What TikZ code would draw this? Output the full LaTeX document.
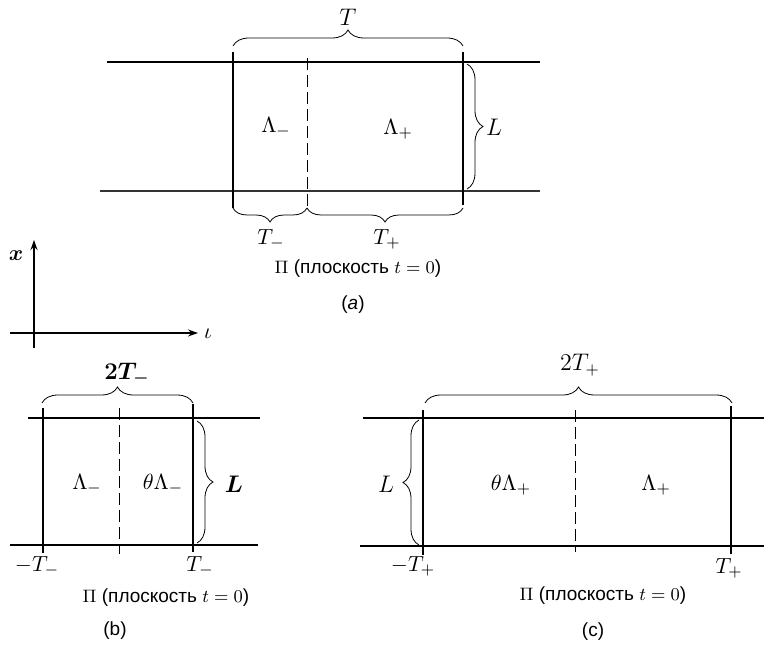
\documentclass[tikz,border=0pt]{standalone}
\usepackage{fontspec}
\usepackage{bm}
\newfontfamily\rus{Liberation Sans}
\usetikzlibrary{decorations.pathreplacing,arrows.meta}
\begin{document}
\begin{tikzpicture}[x=0.5pt,y=-0.5pt,
  hline/.style={line width=0.9pt},
  vline/.style={line width=0.7pt},
  thickv/.style={line width=1.05pt},
  dline/.style={line width=0.5pt, dash pattern=on 6pt off 2.5pt},
  brc/.style={line width=0.4pt, decorate, decoration={brace, amplitude=#1}},
  brc/.default=7pt,
  lab/.style={inner sep=0pt, font=\fontsize{11}{13}\selectfont},
  big/.style={inner sep=0pt, font=\fontsize{12}{14}\selectfont},
  captxt/.style={inner sep=0pt, font=\rus\fontsize{9.5}{11}\selectfont},
  axisarrow/.style={line width=0.7pt, -{Stealth[length=5pt,width=3.5pt]}}
]
\useasboundingbox (0,0) rectangle (764,646);

% ---------- panel (a) ----------
\draw[hline] (107,62) -- (540,62);
\draw[line width=0.55pt, black!80] (100,191) -- (540,191);
\draw[vline] (233,52) -- (233,208);
\draw[dline] (307,58) -- (307,210);
\draw[vline] (463,52) -- (463,205);
\draw[brc=8pt] (233,46) -- (463,46);
\node[big] (aT) at (348,17) {$T$};
\draw[brc=8pt] (467,64) -- (467,189);
\node[big] (aL) at (494,127) {$L$};
\node[lab] (aLm) at (276,127) {$\Lambda_-$};
\node[lab] (aLp) at (398,129) {$\Lambda_+$};
\draw[brc=7pt] (307,208) -- (233,208);
\draw[brc=7pt] (463,208) -- (307,208);
\node[lab] (aTm) at (271,239) {$T_-$};
\node[lab] (aTp) at (387,239) {$T_+$};
\node[captxt] (acap) at (358,269) {$\Pi$ (плоскость $t=0$)};
\node[captxt] (aname) at (353,305) {(\textit{a})};

% ---------- axes ----------
\coordinate (orig) at (34,333);
\coordinate (xtip) at (34,240);
\coordinate (ttip) at (198,333);
\draw[axisarrow] (34,348) -- (xtip);
\draw[axisarrow] (10,333) -- (ttip);
\node[lab] (xlab) at (16,256) {$\bm{x}$};
\node[lab] (tlab) at (208,334) {$\iota$};

% ---------- panel (b) ----------
\draw[hline] (28,418) -- (260,418);
\draw[hline] (10,545) -- (258,545);
\draw[vline] (43,408) -- (43,553);
\draw[dline] (119,408) -- (119,554);
\draw[thickv] (193,404) -- (193,552);
\draw[brc=8pt] (42,403) -- (193,403);
\node[big] (b2T) at (127,374) {$\bm{2T_-}$};
\draw[brc=8pt] (197,421) -- (197,543);
\node[big] (bL) at (234,484) {$\bm{L}$};
\node[lab] (bLm) at (87,484) {$\Lambda_-$};
\node[lab] (bTLm) at (163,484) {$\theta\Lambda_-$};
\node[lab] (bmT) at (37,566) {$-T_-$};
\node[lab] (bT) at (200,566) {$T_-$};
\node[captxt] (bcap) at (166,598) {$\Pi$ (плоскость $t=0$)};
\node[captxt] (bname) at (115,631) {(b)};

% ---------- panel (c) ----------
\draw[hline] (363,418) -- (764,418);
\draw[hline] (360,546) -- (764,546);
\draw[vline] (423,410) -- (423,555);
\draw[dline] (575,410) -- (575,552);
\draw[vline] (731,406) -- (731,554);
\draw[brc=8pt] (425,403) -- (732,403);
\node[big] (c2T) at (580,365) {$2T_+$};
\draw[brc=8pt] (419,545) -- (419,420);
\node[big] (cL) at (386,484) {$L$};
\node[lab] (cTLp) at (511,485) {$\theta\Lambda_+$};
\node[lab] (cLp) at (656,485) {$\Lambda_+$};
\node[lab] (cmT) at (413,566) {$-T_+$};
\node[lab] (cT) at (729,568) {$T_+$};
\node[captxt] (ccap) at (603,596) {$\Pi$ (плоскость $t=0$)};
\node[captxt] (cname) at (593,632) {(c)};
\end{tikzpicture}
\end{document}
